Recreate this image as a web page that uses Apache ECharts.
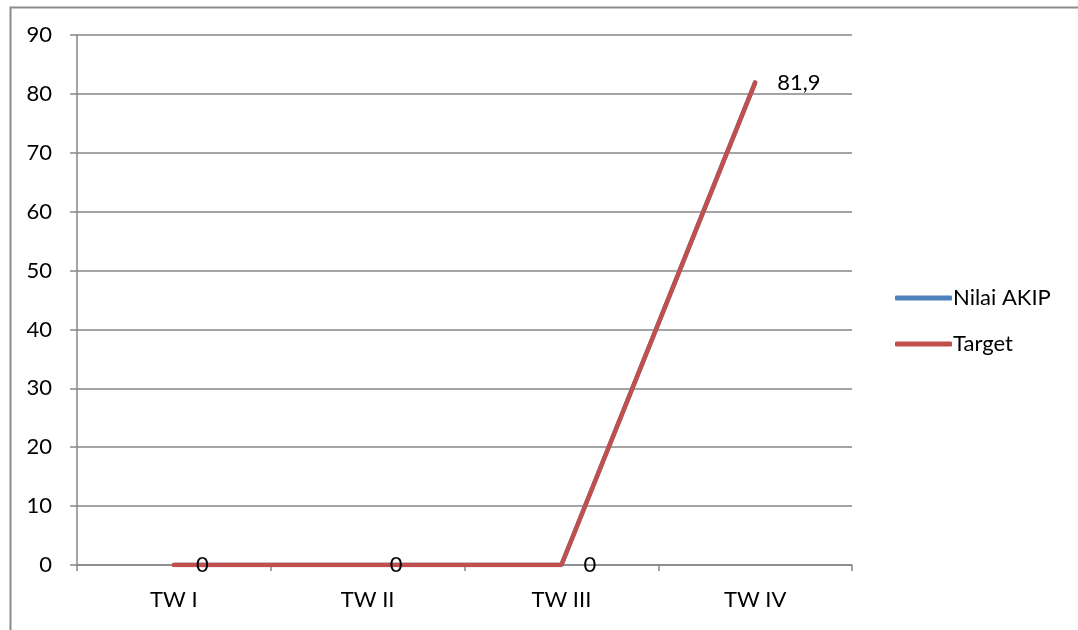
<!DOCTYPE html>
<html>
<head>
<meta charset="utf-8">
<script src="https://cdn.jsdelivr.net/npm/echarts@6/dist/echarts.min.js"></script>
<style>html,body{margin:0;padding:0;background:#fff}#c{width:1078px;height:630px}</style>
</head>
<body>
<div id="c"></div>
<script>
const categories = ['TW I', 'TW II', 'TW III', 'TW IV'];
const nilaiAkip = [0, 0, 0, 81.9];
const target = [0, 0, 0, 81.9];
const yTicks = { min: 0, max: 90, interval: 10 };

const chart = echarts.init(document.getElementById('c'));
const font = 'Lato, "Liberation Sans", sans-serif';
const fmt = v => String(v).replace('.', ',');
chart.setOption({
  animation: false,
  textStyle: { fontFamily: font },
  graphic: [{
    type: 'rect', left: 8, top: 5, silent: true,
    shape: { width: 1200, height: 800 },
    style: { fill: 'none', stroke: '#8c8c8c', lineWidth: 2 }
  }],
  grid: { left: 77, right: 226, top: 35, bottom: 65 },
  legend: {
    orient: 'vertical', left: 890, top: 282,
    itemWidth: 57, itemHeight: 5, itemGap: 24,
    icon: 'roundRect',
    textStyle: { fontSize: 22, color: '#000', fontFamily: font, padding: [0, 0, 0, -4] },
    data: ['Nilai AKIP', 'Target']
  },
  xAxis: {
    type: 'category', data: categories, boundaryGap: true,
    axisLine: { lineStyle: { color: '#868686', width: 1.5 } },
    axisTick: { show: true, length: 6, alignWithLabel: false, lineStyle: { color: '#868686', width: 1.5 } },
    axisLabel: { color: '#000', fontSize: 22, margin: 24, fontFamily: font }
  },
  yAxis: {
    type: 'value', min: yTicks.min, max: yTicks.max, interval: yTicks.interval,
    axisLine: { show: true, lineStyle: { color: '#868686', width: 1.5 } },
    axisTick: { show: true, length: 7, lineStyle: { color: '#868686', width: 1.5 } },
    splitLine: { lineStyle: { color: '#868686', width: 1.5 } },
    axisLabel: { color: '#000', fontSize: 22, margin: 25, fontFamily: font }
  },
  series: [
    {
      name: 'Nilai AKIP', type: 'line', data: nilaiAkip,
      symbol: 'none', itemStyle: { color: '#4F81BD' },
      lineStyle: { color: '#4F81BD', width: 4.5, cap: 'round' }
    },
    {
      name: 'Target', type: 'line', data: target,
      symbol: 'circle', symbolSize: 0.1, showSymbol: true,
      itemStyle: { color: '#C0504D' },
      lineStyle: { color: '#C0504D', width: 4.5, cap: 'round' },
      label: {
        show: true, position: 'right', distance: 22,
        color: '#000', fontSize: 22, fontFamily: font,
        formatter: p => fmt(p.value)
      }
    }
  ]
});
</script>
</body>
</html>
